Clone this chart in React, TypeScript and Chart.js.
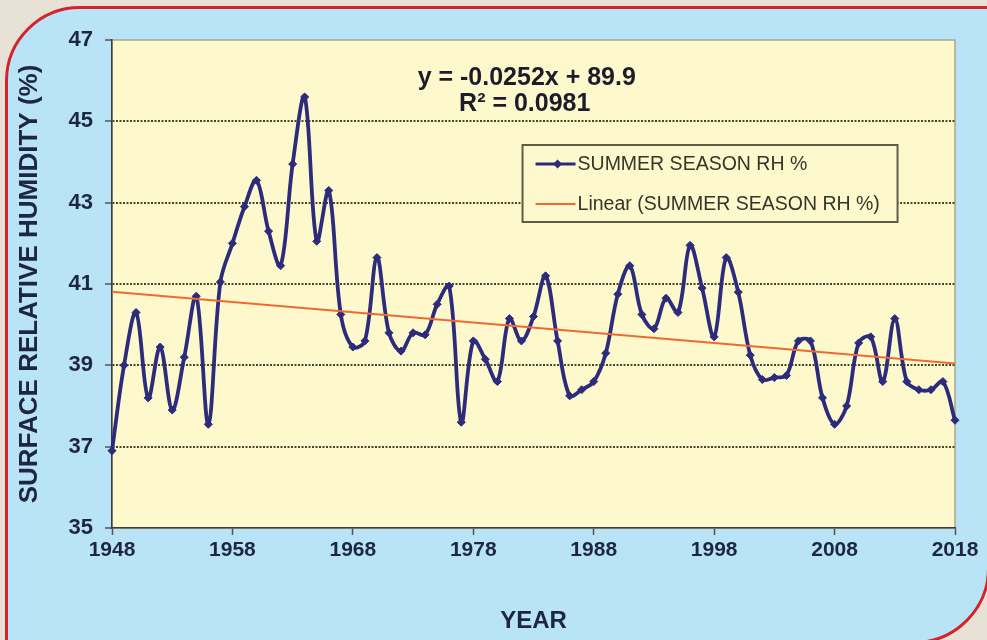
import React, { useEffect, useRef } from "react";
import { Chart, registerables } from "chart.js";

Chart.register(...registerables);

const YEARS = [
  1948, 1949, 1950, 1951, 1952, 1953, 1954, 1955, 1956, 1957,
  1958, 1959, 1960, 1961, 1962, 1963, 1964, 1965, 1966, 1967,
  1968, 1969, 1970, 1971, 1972, 1973, 1974, 1975, 1976, 1977,
  1978, 1979, 1980, 1981, 1982, 1983, 1984, 1985, 1986, 1987,
  1988, 1989, 1990, 1991, 1992, 1993, 1994, 1995, 1996, 1997,
  1998, 1999, 2000, 2001, 2002, 2003, 2004, 2005, 2006, 2007,
  2008, 2009, 2010, 2011, 2012, 2013, 2014, 2015, 2016, 2017,
  2018,
];

const RH_SUMMER = [
  36.9, 39.0, 40.3, 38.2, 39.45, 37.9, 39.2, 40.7, 37.55, 41.05,
  42.0, 42.9, 43.55, 42.3, 41.45, 43.95, 45.6, 42.05, 43.3, 40.25,
  39.45, 39.6, 41.65, 39.8, 39.35, 39.8, 39.75, 40.5, 40.95, 37.6,
  39.6, 39.15, 38.6, 40.15, 39.6, 40.2, 41.2, 39.6, 38.25, 38.4,
  38.6, 39.3, 40.75, 41.45, 40.25, 39.9, 40.65, 40.3, 41.95, 40.9,
  39.7, 41.65, 40.8, 39.25, 38.65, 38.7, 38.75, 39.6, 39.6, 38.2,
  37.55, 38.0, 39.55, 39.7, 38.6, 40.15, 38.6, 38.4, 38.4, 38.6,
  37.65,
];

// Trend line as given by the chart's own equation label
const TREND_SLOPE = -0.0252;
const TREND_INTERCEPT = 89.9;
const EQUATION_LINES = ["y = -0.0252x + 89.9", "R\u00B2 = 0.0981"];

const SERIES_LABEL = "SUMMER SEASON RH %";
const TREND_LABEL = "Linear (SUMMER SEASON RH %)";
const X_TITLE = "YEAR";
const Y_TITLE = "SURFACE RELATIVE HUMIDITY (%)";

const X_MIN = 1948;
const X_MAX = 2018;
const X_STEP = 10;
const Y_MIN = 35;
const Y_MAX = 47;
const Y_STEP = 2;

const NAVY = "#2d2b7c";
const ORANGE = "#ee6a32";
const PLOT_BG = "#fdf9cd";
const FRAME_BG = "#b9e4f7";
const PAGE_BG = "#e8e2d6";
const TEXT = "#1e2742";
const FONT = "'Liberation Sans', Arial, Helvetica, sans-serif";

const decorPlugin = {
  id: "decor",
  beforeDraw(chart: any) {
    const { ctx, chartArea: a } = chart;
    ctx.save();
    ctx.fillStyle = PLOT_BG;
    ctx.fillRect(a.left, a.top, a.right - a.left, a.bottom - a.top);
    ctx.strokeStyle = "#a7a68e";
    ctx.lineWidth = 1.5;
    ctx.strokeRect(a.left, a.top, a.right - a.left, a.bottom - a.top);
    ctx.restore();
  },
  afterDraw(chart: any) {
    const { ctx, chartArea: a } = chart;
    const w = a.right - a.left;
    ctx.save();
    // Equation
    ctx.fillStyle = "#1c1c2a";
    ctx.font = `bold 25px ${FONT}`;
    ctx.textAlign = "center";
    ctx.textBaseline = "middle";
    const cx = a.left + w * 0.492;
    ctx.fillText(EQUATION_LINES[0], cx, a.top + 38);
    ctx.fillText(EQUATION_LINES[1], cx - 2, a.top + 64);

    // Legend box
    const lx = a.left + w * 0.487;
    const ly = a.top + 105;
    const lw = 375;
    const lh = 77;
    ctx.fillStyle = PLOT_BG;
    ctx.fillRect(lx, ly, lw, lh);
    ctx.strokeStyle = "#5d5d46";
    ctx.lineWidth = 2;
    ctx.strokeRect(lx, ly, lw, lh);

    const r1 = ly + 19;
    const r2 = ly + 59;
    // row 1
    ctx.strokeStyle = NAVY;
    ctx.lineWidth = 3;
    ctx.beginPath();
    ctx.moveTo(lx + 13, r1);
    ctx.lineTo(lx + 53, r1);
    ctx.stroke();
    ctx.fillStyle = NAVY;
    ctx.beginPath();
    const dx = lx + 35;
    ctx.moveTo(dx, r1 - 4.5);
    ctx.lineTo(dx + 4.5, r1);
    ctx.lineTo(dx, r1 + 4.5);
    ctx.lineTo(dx - 4.5, r1);
    ctx.closePath();
    ctx.fill();
    // row 2
    ctx.strokeStyle = ORANGE;
    ctx.lineWidth = 2;
    ctx.beginPath();
    ctx.moveTo(lx + 13, r2);
    ctx.lineTo(lx + 53, r2);
    ctx.stroke();

    ctx.fillStyle = "#35352a";
    ctx.font = `19.5px ${FONT}`;
    ctx.textAlign = "left";
    ctx.textBaseline = "middle";
    ctx.fillText(SERIES_LABEL, lx + 55, r1 + 1);
    ctx.fillText(TREND_LABEL, lx + 55, r2 + 1);
    ctx.restore();
  },
};

export default function App() {
  const ref = useRef<HTMLCanvasElement | null>(null);

  useEffect(() => {
    if (!ref.current) return;
    const seriesPoints = YEARS.map((x, i) => ({ x, y: RH_SUMMER[i] }));
    const trendPoints = [X_MIN, X_MAX].map((x) => ({
      x,
      y: TREND_SLOPE * x + TREND_INTERCEPT,
    }));

    const chart = new Chart(ref.current, {
      type: "line",
      data: {
        datasets: [
          {
            label: TREND_LABEL,
            data: trendPoints,
            borderColor: ORANGE,
            borderWidth: 2,
            pointRadius: 0,
            tension: 0,
            order: 0,
            clip: false,
          },
          {
            label: SERIES_LABEL,
            data: seriesPoints,
            borderColor: NAVY,
            backgroundColor: NAVY,
            borderWidth: 3.8,
            pointStyle: "rectRot",
            pointRadius: 4,
            pointBorderWidth: 1,
            tension: 0.35,
            order: 1,
            clip: false,
          },
        ],
      },
      options: {
        responsive: false,
        animation: false,
        devicePixelRatio: 1,
        layout: { padding: { left: 0, top: 40, right: 32, bottom: 0 } },
        plugins: {
          legend: { display: false },
          tooltip: { enabled: false },
        },
        scales: {
          x: {
            type: "linear",
            min: X_MIN,
            max: X_MAX,
            ticks: {
              stepSize: X_STEP,
              color: TEXT,
              font: { family: FONT, size: 21, weight: "bold" },
              padding: 3,
              maxRotation: 0,
              callback: (v: any) => String(v),
            },
            grid: {
              drawOnChartArea: false,
              tickLength: 7,
              tickColor: "#555",
              tickWidth: 1.5,
            },
            border: { color: "#3d3d3d", width: 1.5 },
            title: {
              display: true,
              text: X_TITLE,
              color: TEXT,
              font: { family: FONT, size: 24, weight: "bold" },
              padding: { top: 0, bottom: 4 },
            },
            afterFit: (s: any) => {
              s.height = 112;
            },
          },
          y: {
            type: "linear",
            min: Y_MIN,
            max: Y_MAX,
            ticks: {
              stepSize: Y_STEP,
              color: TEXT,
              font: { family: FONT, size: 22, weight: "bold" },
              padding: 12,
            },
            grid: {
              color: (c: any) =>
                c.tick && (c.tick.value === Y_MIN || c.tick.value === Y_MAX)
                  ? "rgba(0,0,0,0)"
                  : "#46462c",
              lineWidth: 2,
              tickLength: 7,
              tickColor: "#555",
              tickWidth: 1.5,
            },
            border: { color: "#3d3d3d", width: 1.5, dash: [2, 1.5] },
            title: {
              display: true,
              text: Y_TITLE,
              color: TEXT,
              font: { family: FONT, size: 26, weight: "bold" },
              padding: { top: 14, bottom: 0 },
            },
            afterFit: (s: any) => {
              s.width = 112;
            },
          },
        },
      },
      plugins: [decorPlugin],
    } as any);

    return () => chart.destroy();
  }, []);

  return (
    <div
      style={{
        position: "fixed",
        left: 0,
        top: 0,
        width: 987,
        height: 640,
        overflow: "hidden",
        background: PAGE_BG,
      }}
    >
      <div
        style={{
          position: "absolute",
          left: 5,
          top: 6,
          width: 985,
          height: 638,
          boxSizing: "border-box",
          border: "3px solid #d4232b",
          borderRadius: "75px 0 76px 0",
          background: FRAME_BG,
        }}
      />
      <canvas
        ref={ref}
        width={987}
        height={640}
        style={{ position: "absolute", left: 0, top: 0, width: 987, height: 640 }}
      />
    </div>
  );
}
